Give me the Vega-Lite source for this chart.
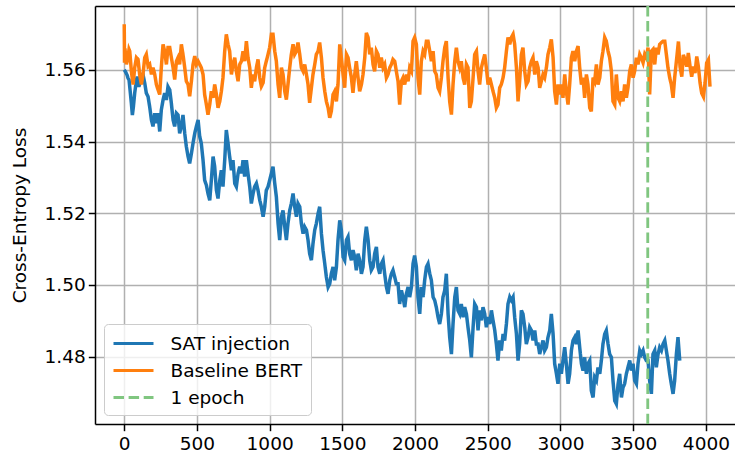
{
  "$schema": "https://vega.github.io/schema/vega-lite/v6.json",
  "width": 640,
  "height": 418,
  "autosize": {"type": "none"},
  "padding": {"left": 95, "top": 6, "right": 0, "bottom": 37},
  "background": "white",
  "config": {
    "font": "DejaVu Sans",
    "view": {"stroke": null},
    "axis": {
      "labelFont": "DejaVu Sans", "labelFontSize": 18.5, "labelColor": "black",
      "tickColor": "black", "tickWidth": 1.5, "tickSize": 6.7,
      "domainColor": "black", "domainWidth": 1.5,
      "gridColor": "#b0b0b0", "gridWidth": 1.5,
      "titleFont": "DejaVu Sans", "titleFontSize": 18.5, "titleFontWeight": "normal", "titleColor": "black"
    },
    "legend": {
      "orient": "none", "legendX": 9, "legendY": 318,
      "symbolType": "M-2,0H2", "symbolSize": 400, "symbolStrokeWidth": 2.85, "symbolOffset": 10,
      "labelFont": "DejaVu Sans", "labelFontSize": 18.5, "labelColor": "black", "labelOffset": 25.5,
      "padding": 8, "rowPadding": 6,
      "fillColor": "rgba(255,255,255,0.8)", "strokeColor": "#cccccc", "cornerRadius": 4
    }
  },
  "datasets": {
    "sat": [
{"step":0,"loss":1.5600},{"step":8,"loss":1.5595},{"step":19,"loss":1.5586},{"step":26,"loss":1.5577},{"step":33,"loss":1.5572},{"step":40,"loss":1.5544},{"step":49,"loss":1.5507},{"step":56,"loss":1.5474},{"step":63,"loss":1.5497},{"step":72,"loss":1.5535},{"step":84,"loss":1.5572},{"step":90,"loss":1.5581},{"step":100,"loss":1.5553},{"step":109,"loss":1.5563},{"step":118,"loss":1.5572},{"step":127,"loss":1.5591},{"step":141,"loss":1.5563},{"step":152,"loss":1.5535},{"step":164,"loss":1.5525},{"step":175,"loss":1.5497},{"step":187,"loss":1.5460},{"step":198,"loss":1.5442},{"step":210,"loss":1.5479},{"step":221,"loss":1.5451},{"step":232,"loss":1.5479},{"step":244,"loss":1.5428},{"step":255,"loss":1.5488},{"step":267,"loss":1.5516},{"step":278,"loss":1.5535},{"step":290,"loss":1.5516},{"step":301,"loss":1.5553},{"step":313,"loss":1.5544},{"step":324,"loss":1.5507},{"step":336,"loss":1.5460},{"step":347,"loss":1.5442},{"step":359,"loss":1.5479},{"step":370,"loss":1.5474},{"step":381,"loss":1.5423},{"step":393,"loss":1.5442},{"step":404,"loss":1.5474},{"step":416,"loss":1.5423},{"step":427,"loss":1.5386},{"step":439,"loss":1.5358},{"step":450,"loss":1.5339},{"step":462,"loss":1.5367},{"step":473,"loss":1.5395},{"step":485,"loss":1.5423},{"step":496,"loss":1.5442},{"step":508,"loss":1.5460},{"step":519,"loss":1.5414},{"step":530,"loss":1.5395},{"step":542,"loss":1.5348},{"step":553,"loss":1.5292},{"step":565,"loss":1.5278},{"step":576,"loss":1.5255},{"step":588,"loss":1.5236},{"step":599,"loss":1.5292},{"step":611,"loss":1.5358},{"step":622,"loss":1.5330},{"step":634,"loss":1.5264},{"step":645,"loss":1.5241},{"step":657,"loss":1.5292},{"step":668,"loss":1.5320},{"step":679,"loss":1.5274},{"step":691,"loss":1.5348},{"step":702,"loss":1.5432},{"step":714,"loss":1.5395},{"step":725,"loss":1.5358},{"step":737,"loss":1.5320},{"step":748,"loss":1.5348},{"step":760,"loss":1.5283},{"step":771,"loss":1.5274},{"step":783,"loss":1.5311},{"step":794,"loss":1.5330},{"step":806,"loss":1.5311},{"step":817,"loss":1.5348},{"step":828,"loss":1.5302},{"step":840,"loss":1.5348},{"step":851,"loss":1.5311},{"step":863,"loss":1.5274},{"step":874,"loss":1.5227},{"step":886,"loss":1.5255},{"step":897,"loss":1.5274},{"step":909,"loss":1.5283},
{"step":920,"loss":1.5264},{"step":932,"loss":1.5236},{"step":943,"loss":1.5218},{"step":955,"loss":1.5190},{"step":966,"loss":1.5218},{"step":977,"loss":1.5264},{"step":989,"loss":1.5274},{"step":1000,"loss":1.5292},{"step":1012,"loss":1.5311},{"step":1023,"loss":1.5330},{"step":1035,"loss":1.5283},{"step":1046,"loss":1.5246},{"step":1058,"loss":1.5171},{"step":1069,"loss":1.5125},{"step":1081,"loss":1.5190},{"step":1092,"loss":1.5208},{"step":1104,"loss":1.5162},{"step":1115,"loss":1.5125},{"step":1126,"loss":1.5171},{"step":1138,"loss":1.5208},{"step":1149,"loss":1.5227},{"step":1161,"loss":1.5255},{"step":1172,"loss":1.5218},{"step":1184,"loss":1.5190},{"step":1195,"loss":1.5227},{"step":1207,"loss":1.5218},{"step":1218,"loss":1.5171},{"step":1230,"loss":1.5143},{"step":1241,"loss":1.5162},{"step":1253,"loss":1.5153},{"step":1264,"loss":1.5125},{"step":1275,"loss":1.5087},{"step":1287,"loss":1.5069},{"step":1298,"loss":1.5115},{"step":1310,"loss":1.5153},{"step":1321,"loss":1.5171},{"step":1333,"loss":1.5199},{"step":1344,"loss":1.5218},{"step":1356,"loss":1.5143},{"step":1367,"loss":1.5097},{"step":1379,"loss":1.5059},{"step":1390,"loss":1.5022},{"step":1402,"loss":1.4994},{"step":1413,"loss":1.5003},{"step":1424,"loss":1.5031},{"step":1436,"loss":1.5050},{"step":1447,"loss":1.5013},{"step":1459,"loss":1.5050},{"step":1470,"loss":1.5125},{"step":1482,"loss":1.5180},{"step":1493,"loss":1.5153},{"step":1505,"loss":1.5078},{"step":1516,"loss":1.5069},{"step":1528,"loss":1.5125},{"step":1539,"loss":1.5134},{"step":1550,"loss":1.5087},{"step":1562,"loss":1.5069},{"step":1573,"loss":1.5097},{"step":1585,"loss":1.5078},{"step":1596,"loss":1.5041},{"step":1608,"loss":1.5087},{"step":1619,"loss":1.5069},{"step":1631,"loss":1.5031},{"step":1642,"loss":1.5050},{"step":1654,"loss":1.5125},{"step":1665,"loss":1.5162},{"step":1677,"loss":1.5125},{"step":1688,"loss":1.5069},{"step":1699,"loss":1.5041},{"step":1711,"loss":1.5050},{"step":1722,"loss":1.5087},{"step":1734,"loss":1.5106},{"step":1745,"loss":1.5050},{"step":1757,"loss":1.5031},{"step":1768,"loss":1.5059},{"step":1780,"loss":1.5069},{"step":1791,"loss":1.5031},{"step":1803,"loss":1.4994},{"step":1814,"loss":1.4975},{"step":1826,"loss":1.5013},{"step":1837,"loss":1.5031},{"step":1848,"loss":1.5041},{"step":1860,"loss":1.5022},{"step":1871,"loss":1.5003},
{"step":1883,"loss":1.5003},{"step":1894,"loss":1.4947},{"step":1906,"loss":1.4985},{"step":1917,"loss":1.4966},{"step":1929,"loss":1.4938},{"step":1940,"loss":1.4975},{"step":1952,"loss":1.4994},{"step":1963,"loss":1.4966},{"step":1975,"loss":1.4994},{"step":1986,"loss":1.5059},{"step":1997,"loss":1.5082},{"step":2009,"loss":1.5050},{"step":2020,"loss":1.4966},{"step":2032,"loss":1.4919},{"step":2043,"loss":1.4994},{"step":2055,"loss":1.4966},{"step":2066,"loss":1.5013},{"step":2078,"loss":1.5050},{"step":2089,"loss":1.5059},{"step":2101,"loss":1.5031},{"step":2112,"loss":1.5013},{"step":2124,"loss":1.4966},{"step":2135,"loss":1.4957},{"step":2146,"loss":1.4938},{"step":2158,"loss":1.4910},{"step":2169,"loss":1.4891},{"step":2181,"loss":1.4919},{"step":2192,"loss":1.4966},{"step":2204,"loss":1.4985},{"step":2215,"loss":1.5031},{"step":2227,"loss":1.4919},{"step":2238,"loss":1.4854},{"step":2250,"loss":1.4807},{"step":2261,"loss":1.4891},{"step":2273,"loss":1.4966},{"step":2284,"loss":1.4994},{"step":2295,"loss":1.4929},{"step":2307,"loss":1.4919},{"step":2318,"loss":1.4947},{"step":2330,"loss":1.4910},{"step":2341,"loss":1.4938},{"step":2353,"loss":1.4919},{"step":2364,"loss":1.4882},{"step":2376,"loss":1.4845},{"step":2387,"loss":1.4798},{"step":2399,"loss":1.4882},{"step":2410,"loss":1.4947},{"step":2422,"loss":1.4938},{"step":2433,"loss":1.4873},{"step":2444,"loss":1.4929},{"step":2456,"loss":1.4901},{"step":2467,"loss":1.4938},{"step":2479,"loss":1.4919},{"step":2490,"loss":1.4882},{"step":2502,"loss":1.4910},{"step":2513,"loss":1.4891},{"step":2525,"loss":1.4929},{"step":2536,"loss":1.4901},{"step":2548,"loss":1.4873},{"step":2559,"loss":1.4835},{"step":2570,"loss":1.4789},{"step":2582,"loss":1.4845},{"step":2593,"loss":1.4817},{"step":2605,"loss":1.4863},{"step":2616,"loss":1.4845},{"step":2628,"loss":1.4891},{"step":2639,"loss":1.4947},{"step":2651,"loss":1.4966},{"step":2662,"loss":1.4957},{"step":2674,"loss":1.4966},{"step":2685,"loss":1.4910},{"step":2697,"loss":1.4863},{"step":2708,"loss":1.4789},{"step":2719,"loss":1.4835},{"step":2731,"loss":1.4929},{"step":2742,"loss":1.4919},{"step":2754,"loss":1.4882},{"step":2765,"loss":1.4835},{"step":2777,"loss":1.4854},{"step":2788,"loss":1.4882},{"step":2800,"loss":1.4873},{"step":2811,"loss":1.4845},{"step":2823,"loss":1.4873},{"step":2834,"loss":1.4835},
{"step":2846,"loss":1.4835},{"step":2857,"loss":1.4807},{"step":2868,"loss":1.4826},{"step":2880,"loss":1.4845},{"step":2891,"loss":1.4817},{"step":2903,"loss":1.4826},{"step":2914,"loss":1.4854},{"step":2926,"loss":1.4873},{"step":2937,"loss":1.4919},{"step":2949,"loss":1.4863},{"step":2960,"loss":1.4780},{"step":2972,"loss":1.4752},{"step":2983,"loss":1.4724},{"step":2995,"loss":1.4780},{"step":3006,"loss":1.4752},{"step":3017,"loss":1.4789},{"step":3029,"loss":1.4826},{"step":3040,"loss":1.4780},{"step":3052,"loss":1.4724},{"step":3063,"loss":1.4752},{"step":3075,"loss":1.4817},{"step":3086,"loss":1.4845},{"step":3098,"loss":1.4854},{"step":3109,"loss":1.4835},{"step":3121,"loss":1.4873},{"step":3132,"loss":1.4826},{"step":3144,"loss":1.4780},{"step":3155,"loss":1.4761},{"step":3166,"loss":1.4798},{"step":3178,"loss":1.4752},{"step":3189,"loss":1.4780},{"step":3201,"loss":1.4789},{"step":3212,"loss":1.4705},{"step":3224,"loss":1.4686},{"step":3235,"loss":1.4742},{"step":3247,"loss":1.4733},{"step":3258,"loss":1.4770},{"step":3270,"loss":1.4752},{"step":3281,"loss":1.4789},{"step":3292,"loss":1.4835},{"step":3304,"loss":1.4863},{"step":3315,"loss":1.4873},{"step":3327,"loss":1.4835},{"step":3338,"loss":1.4807},{"step":3350,"loss":1.4798},{"step":3361,"loss":1.4733},{"step":3373,"loss":1.4677},{"step":3384,"loss":1.4668},{"step":3396,"loss":1.4724},{"step":3407,"loss":1.4752},{"step":3419,"loss":1.4686},{"step":3430,"loss":1.4714},{"step":3441,"loss":1.4724},{"step":3453,"loss":1.4752},{"step":3464,"loss":1.4770},{"step":3476,"loss":1.4789},{"step":3487,"loss":1.4761},{"step":3499,"loss":1.4780},{"step":3510,"loss":1.4733},{"step":3522,"loss":1.4724},{"step":3533,"loss":1.4780},{"step":3545,"loss":1.4817},{"step":3556,"loss":1.4807},{"step":3568,"loss":1.4817},{"step":3579,"loss":1.4798},{"step":3590,"loss":1.4789},{"step":3602,"loss":1.4789},{"step":3613,"loss":1.4733},{"step":3625,"loss":1.4696},{"step":3636,"loss":1.4807},{"step":3648,"loss":1.4817},{"step":3659,"loss":1.4770},{"step":3671,"loss":1.4807},{"step":3682,"loss":1.4826},{"step":3694,"loss":1.4817},{"step":3705,"loss":1.4835},{"step":3717,"loss":1.4845},{"step":3728,"loss":1.4817},{"step":3739,"loss":1.4789},{"step":3751,"loss":1.4752},{"step":3762,"loss":1.4724},{"step":3774,"loss":1.4696},{"step":3785,"loss":1.4733},{"step":3797,"loss":1.4807},{"step":3808,"loss":1.4854},{"step":3820,"loss":1.4789}
    ],
    "bert": [
{"step":0,"loss":1.5727},{"step":2,"loss":1.5620},{"step":5,"loss":1.5660},{"step":15,"loss":1.5615},{"step":26,"loss":1.5634},{"step":33,"loss":1.5657},{"step":38,"loss":1.5652},{"step":49,"loss":1.5596},{"step":61,"loss":1.5559},{"step":72,"loss":1.5606},{"step":84,"loss":1.5634},{"step":95,"loss":1.5629},{"step":106,"loss":1.5587},{"step":118,"loss":1.5559},{"step":129,"loss":1.5587},{"step":141,"loss":1.5634},{"step":152,"loss":1.5643},{"step":164,"loss":1.5610},{"step":175,"loss":1.5615},{"step":187,"loss":1.5587},{"step":198,"loss":1.5606},{"step":210,"loss":1.5587},{"step":221,"loss":1.5559},{"step":232,"loss":1.5545},{"step":244,"loss":1.5531},{"step":255,"loss":1.5606},{"step":267,"loss":1.5671},{"step":278,"loss":1.5652},{"step":290,"loss":1.5615},{"step":301,"loss":1.5662},{"step":313,"loss":1.5662},{"step":324,"loss":1.5634},{"step":336,"loss":1.5606},{"step":347,"loss":1.5573},{"step":359,"loss":1.5624},{"step":370,"loss":1.5634},{"step":381,"loss":1.5615},{"step":393,"loss":1.5671},{"step":404,"loss":1.5643},{"step":416,"loss":1.5606},{"step":427,"loss":1.5568},{"step":439,"loss":1.5559},{"step":450,"loss":1.5526},{"step":462,"loss":1.5568},{"step":473,"loss":1.5615},{"step":485,"loss":1.5638},{"step":496,"loss":1.5615},{"step":508,"loss":1.5624},{"step":519,"loss":1.5615},{"step":530,"loss":1.5606},{"step":542,"loss":1.5587},{"step":553,"loss":1.5531},{"step":565,"loss":1.5503},{"step":576,"loss":1.5475},{"step":588,"loss":1.5503},{"step":599,"loss":1.5540},{"step":611,"loss":1.5522},{"step":622,"loss":1.5559},{"step":634,"loss":1.5531},{"step":645,"loss":1.5494},{"step":657,"loss":1.5512},{"step":668,"loss":1.5540},{"step":679,"loss":1.5578},{"step":691,"loss":1.5652},{"step":702,"loss":1.5699},{"step":714,"loss":1.5671},{"step":725,"loss":1.5652},{"step":737,"loss":1.5587},{"step":748,"loss":1.5615},{"step":760,"loss":1.5634},{"step":771,"loss":1.5596},{"step":783,"loss":1.5568},{"step":794,"loss":1.5615},{"step":806,"loss":1.5624},{"step":817,"loss":1.5652},{"step":828,"loss":1.5624},{"step":840,"loss":1.5680},{"step":851,"loss":1.5634},{"step":863,"loss":1.5606},{"step":874,"loss":1.5550},{"step":886,"loss":1.5587},{"step":897,"loss":1.5568},{"step":909,"loss":1.5606},
{"step":920,"loss":1.5629},{"step":932,"loss":1.5578},{"step":943,"loss":1.5554},{"step":955,"loss":1.5564},{"step":966,"loss":1.5606},{"step":977,"loss":1.5624},{"step":989,"loss":1.5643},{"step":1000,"loss":1.5662},{"step":1012,"loss":1.5699},{"step":1023,"loss":1.5699},{"step":1035,"loss":1.5652},{"step":1046,"loss":1.5624},{"step":1058,"loss":1.5559},{"step":1069,"loss":1.5522},{"step":1081,"loss":1.5606},{"step":1092,"loss":1.5587},{"step":1104,"loss":1.5540},{"step":1115,"loss":1.5517},{"step":1126,"loss":1.5559},{"step":1138,"loss":1.5606},{"step":1149,"loss":1.5643},{"step":1161,"loss":1.5671},{"step":1172,"loss":1.5643},{"step":1184,"loss":1.5652},{"step":1195,"loss":1.5676},{"step":1207,"loss":1.5643},{"step":1218,"loss":1.5606},{"step":1230,"loss":1.5596},{"step":1241,"loss":1.5615},{"step":1253,"loss":1.5587},{"step":1264,"loss":1.5559},{"step":1275,"loss":1.5508},{"step":1287,"loss":1.5550},{"step":1298,"loss":1.5587},{"step":1310,"loss":1.5615},{"step":1321,"loss":1.5643},{"step":1333,"loss":1.5652},{"step":1344,"loss":1.5676},{"step":1356,"loss":1.5634},{"step":1367,"loss":1.5578},{"step":1379,"loss":1.5540},{"step":1390,"loss":1.5512},{"step":1402,"loss":1.5494},{"step":1413,"loss":1.5466},{"step":1424,"loss":1.5484},{"step":1436,"loss":1.5531},{"step":1447,"loss":1.5540},{"step":1459,"loss":1.5512},{"step":1470,"loss":1.5559},{"step":1482,"loss":1.5671},{"step":1493,"loss":1.5634},{"step":1505,"loss":1.5587},{"step":1516,"loss":1.5550},{"step":1528,"loss":1.5643},{"step":1539,"loss":1.5634},{"step":1550,"loss":1.5606},{"step":1562,"loss":1.5578},{"step":1573,"loss":1.5536},{"step":1585,"loss":1.5587},{"step":1596,"loss":1.5624},{"step":1608,"loss":1.5578},{"step":1619,"loss":1.5540},{"step":1631,"loss":1.5559},{"step":1642,"loss":1.5587},{"step":1654,"loss":1.5634},{"step":1665,"loss":1.5703},{"step":1677,"loss":1.5690},{"step":1688,"loss":1.5643},{"step":1699,"loss":1.5662},{"step":1711,"loss":1.5615},{"step":1722,"loss":1.5596},{"step":1734,"loss":1.5652},{"step":1745,"loss":1.5643},{"step":1757,"loss":1.5606},{"step":1768,"loss":1.5634},{"step":1780,"loss":1.5606},{"step":1791,"loss":1.5615},{"step":1803,"loss":1.5578},{"step":1814,"loss":1.5587},{"step":1826,"loss":1.5606},{"step":1837,"loss":1.5615},{"step":1848,"loss":1.5629},{"step":1860,"loss":1.5624},{"step":1871,"loss":1.5596},
{"step":1883,"loss":1.5568},{"step":1894,"loss":1.5503},{"step":1906,"loss":1.5568},{"step":1917,"loss":1.5578},{"step":1929,"loss":1.5559},{"step":1940,"loss":1.5587},{"step":1952,"loss":1.5568},{"step":1963,"loss":1.5606},{"step":1975,"loss":1.5596},{"step":1986,"loss":1.5680},{"step":1997,"loss":1.5690},{"step":2009,"loss":1.5671},{"step":2020,"loss":1.5578},{"step":2032,"loss":1.5531},{"step":2043,"loss":1.5624},{"step":2055,"loss":1.5652},{"step":2066,"loss":1.5643},{"step":2078,"loss":1.5680},{"step":2089,"loss":1.5680},{"step":2101,"loss":1.5652},{"step":2112,"loss":1.5624},{"step":2124,"loss":1.5652},{"step":2135,"loss":1.5596},{"step":2146,"loss":1.5587},{"step":2158,"loss":1.5550},{"step":2169,"loss":1.5540},{"step":2181,"loss":1.5578},{"step":2192,"loss":1.5624},{"step":2204,"loss":1.5662},{"step":2215,"loss":1.5680},{"step":2227,"loss":1.5578},{"step":2238,"loss":1.5512},{"step":2250,"loss":1.5475},{"step":2261,"loss":1.5559},{"step":2273,"loss":1.5624},{"step":2284,"loss":1.5662},{"step":2295,"loss":1.5624},{"step":2307,"loss":1.5606},{"step":2318,"loss":1.5624},{"step":2330,"loss":1.5578},{"step":2341,"loss":1.5559},{"step":2353,"loss":1.5615},{"step":2364,"loss":1.5606},{"step":2376,"loss":1.5494},{"step":2387,"loss":1.5512},{"step":2399,"loss":1.5578},{"step":2410,"loss":1.5643},{"step":2422,"loss":1.5652},{"step":2433,"loss":1.5596},{"step":2444,"loss":1.5559},{"step":2456,"loss":1.5606},{"step":2467,"loss":1.5624},{"step":2479,"loss":1.5643},{"step":2490,"loss":1.5606},{"step":2502,"loss":1.5559},{"step":2513,"loss":1.5578},{"step":2525,"loss":1.5559},{"step":2536,"loss":1.5540},{"step":2548,"loss":1.5522},{"step":2559,"loss":1.5494},{"step":2570,"loss":1.5503},{"step":2582,"loss":1.5550},{"step":2593,"loss":1.5559},{"step":2605,"loss":1.5578},{"step":2616,"loss":1.5606},{"step":2628,"loss":1.5652},{"step":2639,"loss":1.5690},{"step":2651,"loss":1.5671},{"step":2662,"loss":1.5690},{"step":2674,"loss":1.5699},{"step":2685,"loss":1.5671},{"step":2697,"loss":1.5606},{"step":2708,"loss":1.5512},{"step":2719,"loss":1.5568},{"step":2731,"loss":1.5643},{"step":2742,"loss":1.5662},{"step":2754,"loss":1.5596},{"step":2765,"loss":1.5559},{"step":2777,"loss":1.5568},{"step":2788,"loss":1.5606},{"step":2800,"loss":1.5624},{"step":2811,"loss":1.5634},{"step":2823,"loss":1.5587},{"step":2834,"loss":1.5624},
{"step":2846,"loss":1.5606},{"step":2857,"loss":1.5550},{"step":2868,"loss":1.5568},{"step":2880,"loss":1.5587},{"step":2891,"loss":1.5578},{"step":2903,"loss":1.5606},{"step":2914,"loss":1.5643},{"step":2926,"loss":1.5662},{"step":2937,"loss":1.5685},{"step":2949,"loss":1.5634},{"step":2960,"loss":1.5540},{"step":2972,"loss":1.5503},{"step":2983,"loss":1.5559},{"step":2995,"loss":1.5531},{"step":3006,"loss":1.5559},{"step":3017,"loss":1.5522},{"step":3029,"loss":1.5587},{"step":3040,"loss":1.5540},{"step":3052,"loss":1.5503},{"step":3063,"loss":1.5559},{"step":3075,"loss":1.5634},{"step":3086,"loss":1.5652},{"step":3098,"loss":1.5624},{"step":3109,"loss":1.5652},{"step":3121,"loss":1.5666},{"step":3132,"loss":1.5606},{"step":3144,"loss":1.5559},{"step":3155,"loss":1.5578},{"step":3166,"loss":1.5522},{"step":3178,"loss":1.5587},{"step":3189,"loss":1.5559},{"step":3201,"loss":1.5494},{"step":3212,"loss":1.5484},{"step":3224,"loss":1.5578},{"step":3235,"loss":1.5568},{"step":3247,"loss":1.5615},{"step":3258,"loss":1.5559},{"step":3270,"loss":1.5578},{"step":3281,"loss":1.5624},{"step":3292,"loss":1.5652},{"step":3304,"loss":1.5690},{"step":3315,"loss":1.5680},{"step":3327,"loss":1.5652},{"step":3338,"loss":1.5634},{"step":3350,"loss":1.5596},{"step":3361,"loss":1.5512},{"step":3373,"loss":1.5503},{"step":3384,"loss":1.5587},{"step":3396,"loss":1.5522},{"step":3407,"loss":1.5512},{"step":3419,"loss":1.5540},{"step":3430,"loss":1.5512},{"step":3441,"loss":1.5559},{"step":3453,"loss":1.5522},{"step":3464,"loss":1.5550},{"step":3476,"loss":1.5596},{"step":3487,"loss":1.5615},{"step":3499,"loss":1.5578},{"step":3510,"loss":1.5596},{"step":3522,"loss":1.5634},{"step":3533,"loss":1.5615},{"step":3545,"loss":1.5643},{"step":3556,"loss":1.5634},{"step":3568,"loss":1.5620},{"step":3579,"loss":1.5643},{"step":3590,"loss":1.5634},{"step":3602,"loss":1.5662},{"step":3613,"loss":1.5531},{"step":3625,"loss":1.5652},{"step":3636,"loss":1.5657},{"step":3648,"loss":1.5615},{"step":3659,"loss":1.5662},{"step":3671,"loss":1.5643},{"step":3682,"loss":1.5671},{"step":3694,"loss":1.5676},{"step":3705,"loss":1.5680},{"step":3717,"loss":1.5680},{"step":3728,"loss":1.5643},{"step":3739,"loss":1.5606},{"step":3751,"loss":1.5578},{"step":3762,"loss":1.5559},{"step":3774,"loss":1.5522},{"step":3785,"loss":1.5578},{"step":3797,"loss":1.5624},
{"step":3811,"loss":1.5679},{"step":3822,"loss":1.5609},{"step":3834,"loss":1.5581},{"step":3845,"loss":1.5642},{"step":3856,"loss":1.5628},{"step":3868,"loss":1.5609},{"step":3879,"loss":1.5647},{"step":3891,"loss":1.5609},{"step":3902,"loss":1.5581},{"step":3914,"loss":1.5609},{"step":3925,"loss":1.5591},{"step":3937,"loss":1.5637},{"step":3948,"loss":1.5609},{"step":3960,"loss":1.5563},{"step":3971,"loss":1.5535},{"step":3983,"loss":1.5525},{"step":3994,"loss":1.5563},{"step":4005,"loss":1.5619},{"step":4017,"loss":1.5628},{"step":4028,"loss":1.5553}
    ],
    "epoch": [{"step": 3600, "series": "1 epoch"}]
  },
  "resolve": {"axis": {"x": "independent"}},
  "layer": [
    {
      "data": {"name": "sat"},
      "transform": [{"calculate": "'SAT injection'", "as": "series"}],
      "mark": {"type": "line", "strokeWidth": 3.5},
      "encoding": {
        "x": {"field": "step", "type": "quantitative",
              "scale": {"domain": [-201, 4200], "nice": false, "zero": false},
              "axis": {"values": [0,500,1000,1500,2000,2500,3000,3500,4000], "format": "d", "title": null, "labelPadding": 4, "labelFlush": false}},
        "y": {"field": "loss", "type": "quantitative",
              "scale": {"domain": [1.4612, 1.5778], "nice": false, "zero": false},
              "axis": {"values": [1.48,1.50,1.52,1.54,1.56], "format": ".2f", "title": "Cross-Entropy Loss", "titlePadding": 15, "labelPadding": 3, "labelFlush": false}},
        "color": {"field": "series", "type": "nominal",
                  "scale": {"domain": ["SAT injection","Baseline BERT","1 epoch"], "range": ["#1f77b4","#ff7f0e","#80c680"]},
                  "legend": {"title": null}},
        "strokeDash": {"field": "series", "type": "nominal",
                  "scale": {"domain": ["SAT injection","Baseline BERT","1 epoch"], "range": [[1,0],[1,0],[10.5,4.6]]},
                  "legend": {"title": null}}
      }
    },
    {
      "data": {"name": "bert"},
      "transform": [{"calculate": "'Baseline BERT'", "as": "series"}],
      "mark": {"type": "line", "strokeWidth": 3.5},
      "encoding": {
        "x": {"field": "step", "type": "quantitative", "axis": null},
        "y": {"field": "loss", "type": "quantitative"},
        "color": {"field": "series", "type": "nominal"},
        "strokeDash": {"field": "series", "type": "nominal"}
      }
    },
    {
      "data": {"name": "epoch"},
      "mark": {"type": "rule", "strokeWidth": 2.85},
      "encoding": {
        "x": {"field": "step", "type": "quantitative",
              "axis": {"orient": "top", "labels": false, "ticks": false, "grid": false, "domain": true, "title": null}},
        "color": {"field": "series", "type": "nominal"},
        "strokeDash": {"field": "series", "type": "nominal"}
      }
    }
  ]
}
